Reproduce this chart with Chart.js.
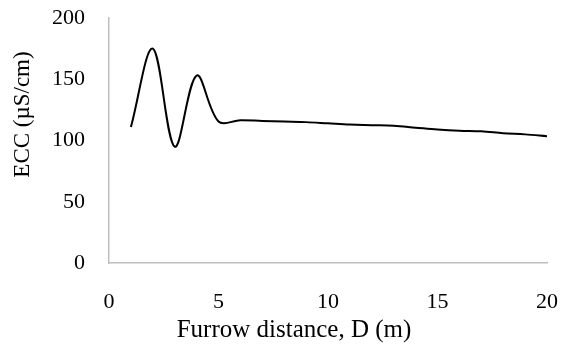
<!DOCTYPE html>
<html lang="en">
<head>
    <meta charset="UTF-8">
    <title>ECC vs furrow distance</title>
    <script src="https://cdn.jsdelivr.net/npm/chart.js"></script>
    <style>
        body { margin: 0; background: #fff; }
        #wrap { width: 561px; height: 354px; }
    </style>
</head>
<body>

<div id="wrap">
    <canvas id="chart"></canvas>
</div>

<script>
    // Furrow distance (m) and ECC (µS/cm)
    const distance = [1, 2, 3, 4, 5, 6, 7, 8, 9, 10, 11, 12, 13, 14, 15, 16, 17, 18, 19, 20];
    const ecc = [111, 175, 95, 153, 115.5, 116.5, 116, 115.5, 115, 114, 113, 112.5, 112, 110.5, 109, 108, 107.5, 106, 105, 103.5];
    const xTicks = [0, 5, 10, 15, 20];
    const yTicks = [0, 50, 100, 150, 200];
    const xTitle = 'Furrow distance, D (m)';
    const yTitle = 'ECC (µS/cm)';

    const serif = "'Liberation Serif', 'Times New Roman', serif";
    const tickFont = { family: serif, size: 22 };
    const pad = { left: 4, right: 14, top: 18, bottom: 6 };

    // Excel-style axis titles: centred a bit off the plot area, drawn by hand
    const axisTitles = {
        id: 'axisTitles',
        afterDraw(chart) {
            const c = chart.ctx;
            const area = chart.chartArea;
            c.save();
            c.fillStyle = '#000';
            c.textAlign = 'center';
            c.textBaseline = 'middle';
            c.font = '25px ' + serif;
            c.fillText(xTitle, (area.left + area.right) / 2 - 34, 330);
            c.translate(23, (area.top + area.bottom) / 2 - 26);
            c.rotate(-Math.PI / 2);
            c.font = '23px ' + serif;
            c.fillText(yTitle, 0, 0);
            c.restore();
        }
    };

    const ctx = document.getElementById('chart').getContext('2d');
    new Chart(ctx, {
        type: 'line',
        data: {
            datasets: [{
                data: distance.map((d, i) => ({ x: d, y: ecc[i] })),
                borderColor: '#000',
                borderWidth: 2,
                pointRadius: 0,
                tension: 0.35,
                fill: false
            }]
        },
        options: {
            responsive: true,
            maintainAspectRatio: false,
            animation: false,
            layout: { padding: pad },
            plugins: {
                legend: { display: false },
                tooltip: { enabled: false }
            },
            scales: {
                x: {
                    type: 'linear',
                    min: 0,
                    max: 20,
                    afterBuildTicks: axis => { axis.ticks = xTicks.map(v => ({ value: v })); },
                    afterFit: axis => {
                        axis.height = 354 - 263 - pad.bottom;
                        axis.paddingLeft = 0;
                        axis.paddingRight = 0;
                    },
                    grid: { display: false, drawTicks: false },
                    border: { display: true, color: '#bfbfbf', width: 1.5 },
                    ticks: { color: '#000', font: tickFont, padding: 26, maxRotation: 0 }
                },
                y: {
                    min: 0,
                    max: 200,
                    afterBuildTicks: axis => { axis.ticks = yTicks.map(v => ({ value: v })); },
                    afterFit: axis => {
                        axis.width = 109 - pad.left;
                        axis.paddingTop = 0;
                        axis.paddingBottom = 0;
                    },
                    grid: { display: false, drawTicks: false },
                    border: { display: true, color: '#bfbfbf', width: 1.5 },
                    ticks: { color: '#000', font: tickFont, padding: 24 }
                }
            }
        },
        plugins: [axisTitles]
    });
</script>
</body>
</html>
